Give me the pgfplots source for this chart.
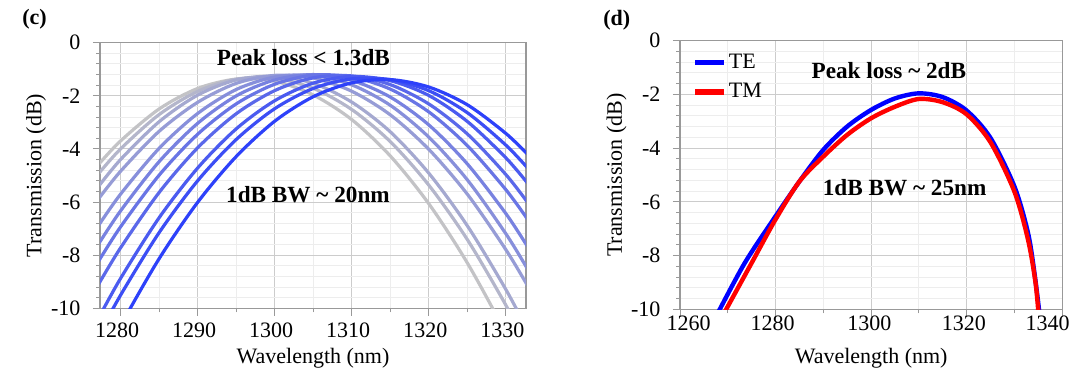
\documentclass[border=0pt]{standalone}
\usepackage{fontspec}
\setmainfont{Liberation Serif}
\usepackage{pgfplots}
\pgfplotsset{compat=1.18}
\definecolor{cg}{RGB}{195,195,198}
\definecolor{cb}{RGB}{45,65,250}
\definecolor{te}{RGB}{0,0,255}
\definecolor{tm}{RGB}{255,0,0}
\pgfplotsset{
  mystyle/.style={scale only axis, anchor=south west,
    ymin=-10, ymax=0, ytick={-10,-8,-6,-4,-2,0}, yticklabels={-10,-8,-6,-4,-2,0},
    minor y tick num=4, minor x tick num=1,
    grid=both, major grid style={draw=black!20,line width=0.5pt},
    minor grid style={draw=black!7,line width=0.5pt},
    axis line style={draw=black!40,line width=0.6pt},
    tick style={draw=black!40,line width=0.5pt},
    major tick length=3.6pt, minor tick length=2pt,
    tick align=outside, xtick pos=left, ytick pos=left,
    ticklabel style={font=\fontsize{11}{13}\selectfont, text=black},
    yticklabel style={xshift=-2.7pt},
    label style={font=\fontsize{11}{13}\selectfont},
    xlabel={Wavelength (nm)}, ylabel={Transmission (dB)},
    /pgf/number format/assume math mode=true,
    /pgf/number format/1000 sep={}},
  cv/.style={line width=1.6pt, smooth, color=#1},
}
\begin{document}
\begin{tikzpicture}
\useasboundingbox (0pt,0pt) rectangle (537.5pt,185pt);
% ---------------- (c) ----------------
\begin{axis}[mystyle, at={(50pt,30.85pt)}, width=213pt, height=132.8pt,
  xmin=1277.3, xmax=1332.6,
  xtick={1280,1290,1300,1310,1320,1330}, xticklabels={1280,1290,1300,1310,1320,1330},
  xticklabel style={xshift=-1.85pt},
  xlabel style={at={(axis description cs:0.5,-0.187)}, anchor=center},
  ylabel style={at={(axis description cs:-0.150,0.5)}, anchor=center}]
\addplot[cv=cb!0!cg] coordinates {(1277,-4.62)(1280,-3.69)(1285,-2.49)(1290,-1.72)(1295,-1.37)(1300,-1.45)(1305,-1.97)(1310,-2.90)(1315,-4.27)(1320,-6.07)(1325,-8.30)(1330,-10.95)(1333,-12.75)};
\addplot[cv=cb!10!cg] coordinates {(1277,-4.97)(1280,-3.99)(1285,-2.70)(1290,-1.83)(1295,-1.37)(1300,-1.34)(1305,-1.72)(1310,-2.52)(1315,-3.73)(1320,-5.37)(1325,-7.42)(1330,-9.89)(1333,-11.58)};
\addplot[cv=cb!20!cg] coordinates {(1277,-5.45)(1280,-4.39)(1285,-2.97)(1290,-1.97)(1295,-1.40)(1300,-1.26)(1305,-1.53)(1310,-2.24)(1315,-3.36)(1320,-4.92)(1325,-6.90)(1330,-9.30)(1333,-10.94)};
\addplot[cv=cb!30!cg] coordinates {(1277,-5.92)(1280,-4.83)(1285,-3.33)(1290,-2.24)(1295,-1.53)(1300,-1.23)(1305,-1.33)(1310,-1.83)(1315,-2.72)(1320,-4.02)(1325,-5.71)(1330,-7.80)(1333,-9.25)};
\addplot[cv=cb!40!cg] coordinates {(1277,-6.93)(1280,-5.69)(1285,-3.97)(1290,-2.66)(1295,-1.76)(1300,-1.29)(1305,-1.23)(1310,-1.59)(1315,-2.36)(1320,-3.56)(1325,-5.17)(1330,-7.20)(1333,-8.62)};
\addplot[cv=cb!50!cg] coordinates {(1277,-7.63)(1280,-6.32)(1285,-4.47)(1290,-3.03)(1295,-2.00)(1300,-1.40)(1305,-1.20)(1310,-1.42)(1315,-2.05)(1320,-3.10)(1325,-4.57)(1330,-6.44)(1333,-7.77)};
\addplot[cv=cb!60!cg] coordinates {(1277,-8.28)(1280,-6.92)(1285,-4.98)(1290,-3.44)(1295,-2.30)(1300,-1.56)(1305,-1.22)(1310,-1.29)(1315,-1.75)(1320,-2.61)(1325,-3.88)(1330,-5.54)(1333,-6.73)};
\addplot[cv=cb!70!cg] coordinates {(1277,-9.15)(1280,-7.71)(1285,-5.63)(1290,-3.95)(1295,-2.67)(1300,-1.80)(1305,-1.32)(1310,-1.25)(1315,-1.58)(1320,-2.31)(1325,-3.44)(1330,-4.97)(1333,-6.09)};
\addplot[cv=cb!80!cg] coordinates {(1277,-10.43)(1280,-8.86)(1285,-6.58)(1290,-4.71)(1295,-3.24)(1300,-2.18)(1305,-1.52)(1310,-1.27)(1315,-1.43)(1320,-1.99)(1325,-2.97)(1330,-4.34)(1333,-5.36)};
\addplot[cv=cb!90!cg] coordinates {(1277,-11.08)(1280,-9.49)(1285,-7.14)(1290,-5.19)(1295,-3.64)(1300,-2.48)(1305,-1.72)(1310,-1.36)(1315,-1.39)(1320,-1.81)(1325,-2.64)(1330,-3.86)(1333,-4.78)};
\addplot[cv=cb!100!cg] coordinates {(1277,-12.35)(1280,-10.64)(1285,-8.12)(1290,-6.00)(1295,-4.28)(1300,-2.95)(1305,-2.03)(1310,-1.51)(1315,-1.39)(1320,-1.67)(1325,-2.34)(1330,-3.42)(1333,-4.26)};
\node[font=\fontsize{11.6}{14}\selectfont\bfseries] at (axis cs:1303.7,-0.57) {Peak loss < 1.3dB};
\node[font=\fontsize{11.6}{14}\selectfont\bfseries] at (axis cs:1304.3,-5.71) {1dB BW \textasciitilde{} 20nm};
\end{axis}
% ---------------- (d) ----------------
\begin{axis}[mystyle, at={(340pt,30.35pt)}, width=191.15pt, height=134.3pt,
  xmin=1260, xmax=1340,
  xtick={1260,1280,1300,1320,1340}, xticklabels={\mbox{},\mbox{},\mbox{},\mbox{},\mbox{}},
  extra x ticks={1261.8,1279.4,1299.6,1319.4,1336.9},
  extra x tick labels={1260,1280,1300,1320,1340},
  extra x tick style={major tick length=0pt, grid=none},
  xlabel style={at={(axis description cs:0.5,-0.182)}, anchor=center},
  ylabel style={at={(axis description cs:-0.166,0.5)}, anchor=center},
  legend image code/.code={\draw[#1, line width=2.6pt] (0pt,0pt) -- (14.5pt,0pt);},
  legend cell align=left,
  legend style={at={(axis description cs:0.0324,0.975)}, anchor=north west,
    draw=none, fill=none, inner sep=0pt, row sep=0pt,
    nodes={inner xsep=1pt, inner ysep=3.0pt},
    font=\fontsize{11}{13}\selectfont}]
\addplot[line width=2.2pt, smooth, color=te] coordinates {(1267.6,-10.25)(1273.5,-8.29)(1279.94,-6.55)(1284.95,-5.25)(1289.95,-4.07)(1294.95,-3.20)(1299.96,-2.58)(1304.96,-2.15)(1309.96,-1.96)(1314.97,-2.10)(1319.97,-2.60)(1324.97,-3.62)(1329.98,-5.43)(1332.84,-7.17)(1334.27,-8.78)(1335.35,-10.35)};
\addlegendentry{TE}
\addplot[line width=2.2pt, smooth, color=tm] coordinates {(1268.9,-10.25)(1274.94,-8.29)(1279.94,-6.67)(1284.95,-5.25)(1289.95,-4.32)(1294.95,-3.51)(1299.96,-2.89)(1304.96,-2.46)(1309.96,-2.17)(1314.97,-2.29)(1319.97,-2.74)(1324.97,-3.78)(1329.98,-5.62)(1332.84,-7.42)(1334.41,-9.03)(1335.1,-10.35)};
\addlegendentry{TM}
\node[font=\fontsize{11.6}{14}\selectfont\bfseries] at (axis cs:1303.7,-1.12) {Peak loss \textasciitilde{} 2dB};
\node[font=\fontsize{11.6}{14}\selectfont\bfseries] at (axis cs:1307.0,-5.46) {1dB BW \textasciitilde{} 25nm};
\end{axis}
\node[anchor=west, inner sep=0pt, font=\fontsize{11}{13}\selectfont\bfseries] at (11pt,175.6pt) {(c)};
\node[anchor=west, inner sep=0pt, font=\fontsize{11}{13}\selectfont\bfseries] at (301.5pt,175pt) {(d)};
\end{tikzpicture}
\end{document}
